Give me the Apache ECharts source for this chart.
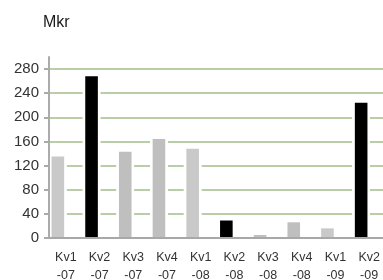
<!DOCTYPE html>
<html>
<head>
<meta charset="utf-8">
<script src="https://cdn.jsdelivr.net/npm/echarts@6/dist/echarts.min.js"></script>
<style>
  html, body { margin: 0; padding: 0; background: #fff; }
  #main { width: 383px; height: 280px; }
</style>
</head>
<body>
<div id="main"></div>
<script>
// data
var categories = ['Kv1\n-07', 'Kv2\n-07', 'Kv3\n-07', 'Kv4\n-07', 'Kv1\n-08',
                  'Kv2\n-08', 'Kv3\n-08', 'Kv4\n-08', 'Kv1\n-09', 'Kv2\n-09'];
var values = [135, 268, 143, 164, 148, 29, 5, 26, 16, 224];
var yTicks = [0, 40, 80, 120, 160, 200, 240, 280];
var unitLabel = 'Mkr';

// colour per quarter (Kv2 is black)
var quarterColors = { Kv1: '#c9c9c9', Kv2: '#000000', Kv3: '#bfbfbf', Kv4: '#bfbfbf' };

var myChart = echarts.init(document.getElementById('main'));

var barData = values.map(function (v, i) {
    var q = categories[i].split('\n')[0];
    return { value: v, itemStyle: { color: quarterColors[q] } };
});
var empty = values.map(function () { return null; });

var font = 'Liberation Sans, Arial, sans-serif';

var option = {
    animation: false,
    title: {
        text: unitLabel,
        left: 38,
        top: 10,
        textStyle: { fontFamily: font, fontSize: 16, fontWeight: 'normal', color: '#1a1a1a' }
    },
    grid: { left: 49, top: 57, width: 337, bottom: 42, outerBoundsMode: 'none' },
    xAxis: [
        {
            type: 'category',
            data: categories,
            z: 3,
            axisLine: { lineStyle: { color: '#a8a8a8', width: 2 } },
            axisTick: { length: 5, lineStyle: { color: '#a8a8a8', width: 2 } },
            axisLabel: {
                margin: 11, fontFamily: font, fontSize: 12.5, lineHeight: 18, color: '#333'
            }
        },
        {
            // hidden twin axis, only for the white gap round the bars
            type: 'category',
            data: categories,
            show: false
        }
    ],
    yAxis: [
        {
            type: 'value',
            position: 'left',
            min: 0, max: 300, interval: 40,
            axisLine: { show: false },
            axisTick: { show: false },
            axisLabel: { show: false },
            splitLine: {
                showMinLine: false, showMaxLine: false,
                lineStyle: { color: '#b9cea6', width: 2 }
            }
        },
        {
            type: 'value',
            position: 'left',
            min: 0, max: 300, interval: 40,
            z: 3,
            axisLine: { show: true, lineStyle: { color: '#ababab', width: 2 } },
            axisTick: { show: true, length: 5, customValues: yTicks, lineStyle: { color: '#ababab', width: 2 } },
            axisLabel: {
                customValues: yTicks, margin: 10,
                fontFamily: font, fontSize: 15, color: '#333'
            },
            splitLine: { show: false }
        }
    ],
    series: [
        {
            // white gap behind each bar (cuts the grid lines)
            name: 'halo',
            type: 'bar',
            xAxisIndex: 1,
            z: 1,
            barWidth: 17.6,
            barGap: '-9%',
            silent: true,
            itemStyle: {
                color: '#fff',
                shadowColor: '#fff', shadowBlur: 0, shadowOffsetY: -3
            },
            data: values
        },
        {
            name: 'halo-pad',
            type: 'bar',
            xAxisIndex: 1,
            barWidth: 17.6,
            barGap: '-9%',
            data: empty
        },
        {
            name: unitLabel,
            type: 'bar',
            xAxisIndex: 0,
            z: 2,
            barWidth: 12.6,
            barGap: '27%',
            data: barData
        },
        {
            name: 'pad',
            type: 'bar',
            xAxisIndex: 0,
            barWidth: 12.6,
            barGap: '27%',
            data: empty
        }
    ]
};

myChart.setOption(option);
</script>
</body>
</html>
